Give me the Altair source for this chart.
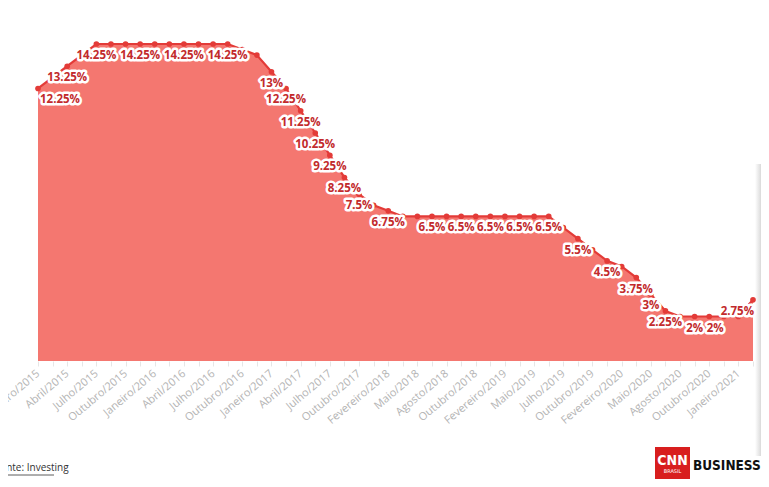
import altair as alt
import pandas as pd

# Selic rate at each COPOM meeting, Jan/2015 .. Mar/2021
selic = [12.25, 12.75, 13.25, 13.75, 14.25, 14.25, 14.25, 14.25,
         14.25, 14.25, 14.25, 14.25, 14.25, 14.25, 14.00, 13.75,
         13.00, 12.25, 11.25, 10.25, 9.25, 8.25, 7.50, 7.00,
         6.75, 6.50, 6.50, 6.50, 6.50, 6.50, 6.50, 6.50,
         6.50, 6.50, 6.50, 6.50, 6.00, 5.50, 5.00, 4.50,
         4.25, 3.75, 3.00, 2.25, 2.00, 2.00, 2.00, 2.00,
         2.00, 2.75]

# tick labels on every other meeting
tick_labels = ["Janeiro/2015", "Abril/2015", "Julho/2015", "Outubro/2015",
               "Janeiro/2016", "Abril/2016", "Julho/2016", "Outubro/2016",
               "Janeiro/2017", "Abril/2017", "Julho/2017", "Outubro/2017",
               "Fevereiro/2018", "Maio/2018", "Agosto/2018", "Outubro/2018",
               "Fevereiro/2019", "Maio/2019", "Julho/2019", "Outubro/2019",
               "Fevereiro/2020", "Maio/2020", "Agosto/2020", "Outubro/2020",
               "Janeiro/2021"]

# meetings that show a value label
labeled = [0, 2, 4, 7, 10, 13, 16, 17, 18, 19, 20, 21, 22, 24, 27, 29, 31,
           33, 35, 37, 39, 41, 42, 43, 45, 46, 49]

df = pd.DataFrame({
    "i": list(range(len(selic))),
    "v": selic,
    "lbl": [f"{v:g}%" for v in selic],
    "show": [i in labeled for i in range(len(selic))],
})

last = len(selic) - 1
arr = "[" + ",".join(f"'{t}'" for t in tick_labels) + "]"
label_expr = f"datum.value % 2 == 0 ? {arr}[datum.value / 2] : ''"

x = alt.X("i:Q", scale=alt.Scale(domain=[0, last], nice=False, zero=False),
          axis=alt.Axis(values=list(range(len(selic))), labelExpr=label_expr,
                        domain=False, grid=False, ticks=True, tickColor="#e6e6e6",
                        tickSize=5, labelAngle=-40, labelAlign="right",
                        labelBaseline="middle", labelPadding=6, labelColor="#b4b4b4",
                        labelFont="Open Sans", labelFontSize=11, labelOverlap=False,
                        labelFlush=False, title=None))
y = alt.Y("v:Q", scale=alt.Scale(domain=[0, 14.25], nice=False), axis=None)

one = pd.DataFrame({"a": [0]})
shade = alt.Chart(one).mark_rect(
    color=alt.LinearGradient(gradient="linear", x1=0, x2=1, y1=0, y2=0,
                             stops=[alt.GradientStop(color="#ffffff", offset=0),
                                    alt.GradientStop(color="#dadada", offset=1)])).encode(
    x=alt.value(717), x2=alt.value(723), y=alt.value(120), y2=alt.value(412))

base = alt.Chart(df)
red = "#e33b38"
area = base.mark_area(color="#f47770", opacity=1).encode(x=x, y=y)
line = base.mark_line(color=red, strokeWidth=2.2).encode(x=x, y=y)
pts = base.mark_circle(size=32, color=red, opacity=1).encode(x=x, y=y)

def labels(filt, align, dx):
    lb = base.transform_filter(filt)
    common = dict(align=align, baseline="middle", dy=12, dx=dx, font="Open Sans",
                  fontSize=11.5, fontWeight="bold")
    halo = lb.mark_text(color="white", stroke="white", strokeWidth=5,
                        strokeJoin="round", **common).encode(x=x, y=y, text="lbl:N")
    txt = lb.mark_text(color="#c22a2c", **common).encode(x=x, y=y, text="lbl:N")
    return [halo, txt]

lay = []
lay += labels(f"datum.show && datum.i > 0 && datum.i < {last} && datum.i != 46",
              "center", 0)
lay += labels("datum.i == 46", "center", 6)
lay += labels("datum.i == 0", "left", 2)
lay += labels(f"datum.i == {last}", "right", 1)

fonte = alt.Chart(one).mark_text(align="left", baseline="middle", fontSize=10,
                                 font="Open Sans", color="#333333", text="Fonte: Investing").encode(
    x=alt.value(-43), y=alt.value(424))
underline = alt.Chart(one).mark_rule(color="#333333", strokeWidth=0.8).encode(
    x=alt.value(-43), x2=alt.value(16), y=alt.value(431))
logo_box = alt.Chart(one).mark_rect(color="#d81e1e").encode(
    x=alt.value(617), x2=alt.value(652), y=alt.value(403), y2=alt.value(442))
logo_cnn = alt.Chart(one).mark_text(align="center", baseline="middle", fontSize=14,
                                    fontWeight="bold", font="DejaVu Sans Condensed",
                                    color="white", text="CNN").encode(
    x=alt.value(634.5), y=alt.value(417))
logo_br = alt.Chart(one).mark_text(align="center", baseline="middle", fontSize=5,
                                   font="DejaVu Sans", color="white", text="BRASIL").encode(
    x=alt.value(634.5), y=alt.value(427))
logo_bus = alt.Chart(one).mark_text(align="left", baseline="middle", fontSize=13.5,
                                    fontWeight="bold", font="DejaVu Sans Condensed",
                                    color="#111111", text="BUSINESS").encode(
    x=alt.value(655), y=alt.value(422))

chart = alt.layer(shade, area, line, pts, *lay, fonte, underline, logo_box, logo_cnn,
                  logo_br, logo_bus).properties(
    width=715, height=317,
    autosize=alt.AutoSizeParams(type="none"),
    padding={"left": 30, "top": 36, "right": 8, "bottom": 118},
    background="white",
).configure_view(stroke=None)

chart.save("out.html", embed_options={"renderer": "svg", "actions": False})
